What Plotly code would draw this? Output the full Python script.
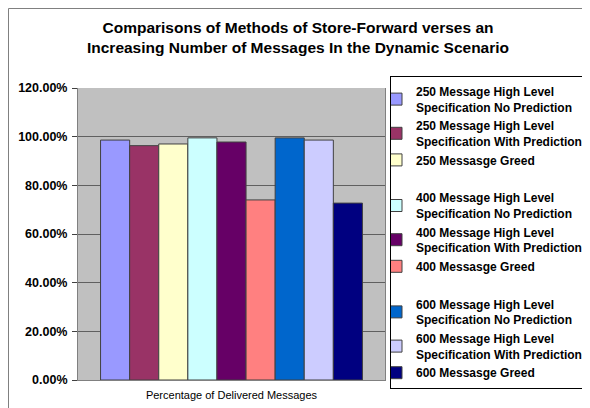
import plotly.graph_objects as go

category = ["Percentage of Delivered Messages"]
series_names = [
    "250 Message High Level<br>Specification No Prediction",
    "250 Message High Level<br>Specification With Prediction",
    "250 Messasge Greed",
    "400 Message High Level<br>Specification No Prediction",
    "400 Message High Level<br>Specification With Prediction",
    "400 Messasge Greed",
    "600 Message High Level<br>Specification No Prediction",
    "600 Message High Level<br>Specification With Prediction",
    "600 Messasge Greed",
]
series_groups = ["250", "250", "250", "400", "400", "400", "600", "600", "600"]
series_values = [0.986, 0.963, 0.970, 0.995, 0.978, 0.740, 0.995, 0.986, 0.727]
series_colors = ["#9999FF", "#993366", "#FFFFCC", "#CCFFFF", "#660066",
                 "#FF8080", "#0066CC", "#CCCCFF", "#000080"]

fig = go.Figure()
for name, grp, val, col in zip(series_names, series_groups, series_values, series_colors):
    fig.add_trace(go.Bar(
        x=category, y=[val], name=name, legendgroup=grp,
        marker=dict(color=col, line=dict(color="#404040", width=1)),
    ))

W, H = 590, 408
OFF = 8  # page body margin offset
L, T = 78 - OFF, 88 - OFF
pw, ph = 307, 292
R = W - L - pw
B = H - T - ph

fig.update_layout(
    width=W, height=H,
    margin=dict(l=L, r=R, t=T, b=B, pad=0, autoexpand=False),
    paper_bgcolor="white",
    plot_bgcolor="#C0C0C0",
    barmode="group",
    bargap=0.147,
    bargroupgap=0,
    font=dict(family="Liberation Sans, Arial, sans-serif", color="black"),
    title=dict(
        text="Comparisons of Methods of Store-Forward verses an<br>Increasing Number of Messages In the Dynamic Scenario",
        x=(298 - OFF) / W, xanchor="center", y=1 - 24.9 / H, yanchor="middle",
        font=dict(size=15.5, weight="bold", color="#000000"),
    ),
    legend=dict(
        x=(390 - OFF - L) / pw, xanchor="left",
        yref="container",
        y=1 - (76 - OFF) / H, yanchor="top",
        maxheight=345,
        bgcolor="white", bordercolor="#000000", borderwidth=1,
        font=dict(size=12, weight="bold", color="#000000"),
        tracegroupgap=19,
        traceorder="grouped",
        indentation=-15,
        itemwidth=30,
    ),
    xaxis=dict(
        showgrid=False, showline=True, linecolor="#808080", linewidth=1,
        ticks="", tickfont=dict(size=11), ticklabelstandoff=5,
    ),
    yaxis=dict(
        range=[0, 1.2], dtick=0.2, tickformat=".2%",
        showgrid=True, gridcolor="#606060", gridwidth=1,
        showline=True, linecolor="#808080", linewidth=1, mirror=True,
        ticks="outside", ticklen=5, tickcolor="#404040",
        tickfont=dict(size=12.5, weight="bold"),
        ticklabelstandoff=2,
        zeroline=False,
    ),
    showlegend=True,
)

fig.add_shape(
    type="rect", xref="paper", yref="paper",
    x0=(0.5 - L) / pw, x1=(W + 10 - L) / pw,
    y0=-(B + 10) / ph, y1=(T - 0.5) / ph + 1,
    line=dict(color="#808080", width=1), fillcolor="rgba(0,0,0,0)",
    layer="below",
)

fig.write_html("out.html")
